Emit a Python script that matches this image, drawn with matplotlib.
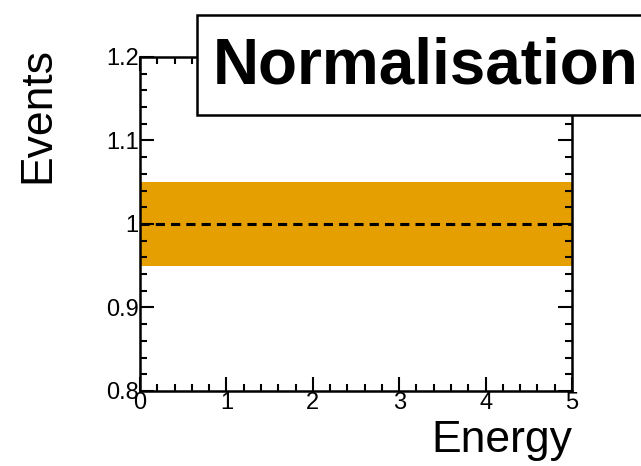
import numpy as np
import matplotlib.pyplot as plt
from matplotlib.ticker import MultipleLocator
from matplotlib.patches import Rectangle

plt.rcParams['font.family'] = ['Liberation Sans', 'DejaVu Sans']

# data
x_edges = [0, 5]
nominal = [1.0, 1.0]
band_lo = [0.95, 0.95]
band_hi = [1.05, 1.05]
title = "Normalisation"
xlabel = "Energy"
ylabel = "Events"

W, H = 641, 466
fig = plt.figure(figsize=(W / 100, H / 100), dpi=100)
ax = fig.add_axes([140 / W, 1 - 391 / H, 432 / W, 334 / H])

ax.fill_between(x_edges, band_lo, band_hi, color="#E69F00", lw=0)
ax.plot(x_edges, nominal, color="black", ls=(0, (3, 2)), lw=2.2)

ax.set_xlim(0, 5)
ax.set_ylim(0.8, 1.2)
ax.xaxis.set_major_locator(MultipleLocator(1))
ax.xaxis.set_minor_locator(MultipleLocator(0.2))
ax.yaxis.set_minor_locator(MultipleLocator(0.02))
ax.set_yticks([0.8, 0.9, 1.0, 1.1, 1.2])
ax.set_yticklabels(["0.8", "0.9", "1", "1.1", "1.2"])
ax.tick_params(which="both", direction="in", top=True, right=True, width=1.5,
               labelsize=17)
ax.tick_params(axis="x", pad=1)
ax.tick_params(axis="y", pad=1)
ax.tick_params(which="major", length=10)
ax.tick_params(which="minor", length=5)
for s in ax.spines.values():
    s.set_linewidth(1.8)

ax.set_xlabel(xlabel, fontsize=32, loc="right", labelpad=4)
ax.set_ylabel(ylabel, fontsize=32, loc="top")
ax.yaxis.set_label_coords(-0.19, 1.03)

# title box (ROOT style, sticks out past the frame)
fig.patches.append(Rectangle((197 / W, 1 - 115 / H), 460 / W, 100 / H,
                             transform=fig.transFigure, fc="white",
                             ec="black", lw=1.8, zorder=5))
fig.text(213 / W, 1 - 66 / H, title, fontsize=46, fontweight="bold",
         va="center", ha="left", zorder=6)

fig.savefig("out.png", dpi=100)
